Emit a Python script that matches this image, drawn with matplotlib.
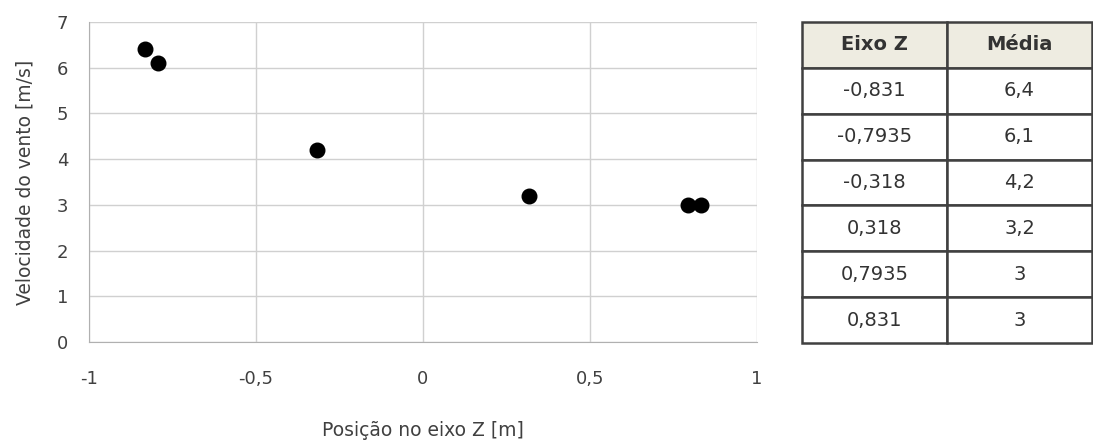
import matplotlib
matplotlib.use('Agg')
import matplotlib.pyplot as plt
from matplotlib.ticker import FuncFormatter, MultipleLocator

plt.rcParams['font.family'] = ['DejaVu Sans']

# data
eixo_z = [-0.831, -0.7935, -0.318, 0.318, 0.7935, 0.831]
media = [6.4, 6.1, 4.2, 3.2, 3.0, 3.0]
tab_header = ['Eixo Z', 'Média']
tab_z = ['-0,831', '-0,7935', '-0,318', '0,318', '0,7935', '0,831']
tab_media = ['6,4', '6,1', '4,2', '3,2', '3', '3']

fig = plt.figure(figsize=(10.93, 4.45), dpi=100)

# scatter
ax = fig.add_axes([0.0814, 0.2315, 0.6112, 0.7191])
ax.scatter(eixo_z, media, s=110, color='black', zorder=3, clip_on=False)
ax.set_xlim(-1, 1)
ax.set_ylim(0, 7)
ax.xaxis.set_major_locator(MultipleLocator(0.5))
ax.yaxis.set_major_locator(MultipleLocator(1))
comma = FuncFormatter(lambda v, p: ('%g' % v).replace('.', ','))
ax.xaxis.set_major_formatter(comma)
ax.yaxis.set_major_formatter(comma)
ax.grid(True, color='#d0d0d0', linewidth=1)
for s in ax.spines.values():
    s.set_visible(False)
ax.spines['left'].set_visible(True)
ax.spines['bottom'].set_visible(True)
ax.spines['left'].set_color('#b0b0b0')
ax.spines['bottom'].set_color('#b0b0b0')
ax.tick_params(length=0, labelsize=13, colors='#404040')
ax.tick_params(axis='x', pad=20)
ax.tick_params(axis='y', pad=15)
ax.set_xlabel('Posição no eixo Z [m]', fontsize=13.5, color='#404040', labelpad=24)
ax.set_ylabel('Velocidade do vento [m/s]', fontsize=13.5, color='#404040', labelpad=16)

# table
tax = fig.add_axes([0.7338, 0.2292, 0.2653, 0.7214])
tax.axis('off')
cells = [[a, b] for a, b in zip(tab_z, tab_media)]
tbl = tax.table(cellText=cells, colLabels=tab_header, cellLoc='center',
                bbox=[0, 0, 1, 1])
tbl.auto_set_font_size(False)
for (r, c), cell in tbl.get_celld().items():
    cell.set_edgecolor('#404040')
    cell.set_linewidth(1.8)
    cell.get_text().set_fontsize(14)
    cell.get_text().set_color('#333333')
    if r == 0:
        cell.set_facecolor('#eeece1')
        cell.get_text().set_fontweight('bold')

fig.savefig('out.png', dpi=100)
